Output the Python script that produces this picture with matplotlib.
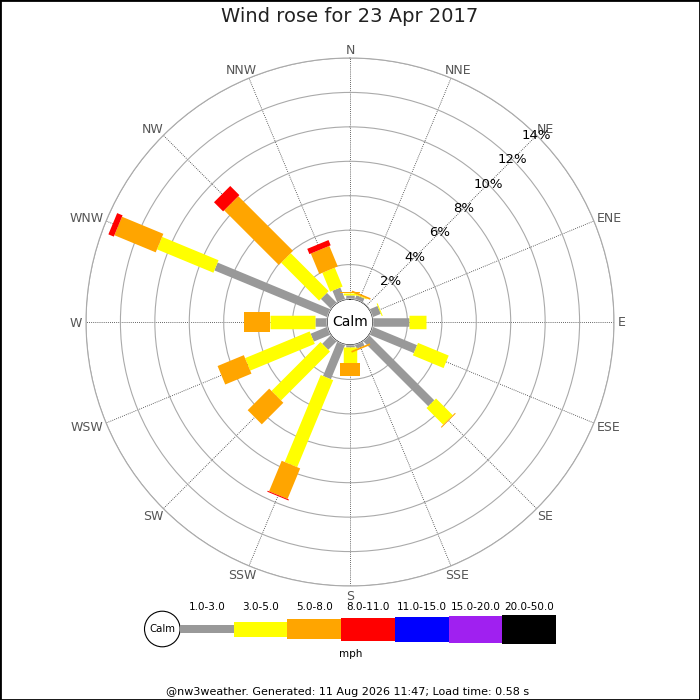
import numpy as np
import matplotlib
matplotlib.use("Agg")
import matplotlib.pyplot as plt
from matplotlib.patches import Circle, Rectangle

# wind directions, clockwise from north
directions = ["N", "NNE", "NE", "ENE", "E", "ESE", "SE", "SSE",
              "S", "SSW", "SW", "WSW", "W", "WNW", "NW", "NNW"]

# % of time in each speed band per direction
band_1_3 = [0.23, 0.25, 0.0, 0.50, 2.10, 2.78, 5.34, 0.25,
            0.10, 2.16, 0.70, 1.04, 0.69, 7.09, 0.81, 0.73]
band_3_5 = [0.12, 0.05, 0.0, 0.06, 0.96, 1.93, 1.37, 0.0,
            0.96, 5.47, 4.02, 4.06, 2.65, 3.55, 3.12, 1.19]
band_5_8 = [0.08, 0.10, 0.0, 0.0, 0.0, 0.0, 0.06, 0.10,
            0.73, 1.92, 1.77, 1.65, 1.50, 2.60, 4.49, 1.29]
band_8_11 = [0.0, 0.0, 0.0, 0.0, 0.0, 0.0, 0.0, 0.0,
             0.0, 0.06, 0.0, 0.0, 0.0, 0.34, 0.75, 0.33]

speed_labels = ["1.0-3.0", "3.0-5.0", "5.0-8.0", "8.0-11.0",
                "11.0-15.0", "15.0-20.0", "20.0-50.0"]
speed_colors = ["#999999", "#ffff00", "#ffa500", "#ff0000",
                "#0000ff", "#a020f0", "#000000"]
# bar thickness in pixels for each band (chart) and in the legend
band_px = [8.5, 13.5, 20, 23, 25, 27, 29]
legend_px = [8, 15, 20, 23, 25, 27, 29]

ring_values = [2, 4, 6, 8, 10, 12, 14]

calm_px = 23.0
outer_px = 264.0
px_per_pct = (outer_px - calm_px) / 14.0

fig = plt.figure(figsize=(7, 7), dpi=100)
fig.patch.set_facecolor("white")

ax = fig.add_axes([86 / 700, 114 / 700, 528 / 700, 528 / 700], projection="polar")
ax.set_theta_zero_location("N")
ax.set_theta_direction(-1)
ax.set_ylim(0, 14)
ax.set_rorigin(-calm_px / px_per_pct)

theta = np.radians(np.arange(16) * 22.5)
ax.set_xticks(theta)
ax.set_xticklabels([])
ax.set_yticks(ring_values)
ax.set_yticklabels([])
ax.xaxis.grid(True, color="#333333", linestyle=(0, (1, 1.5)), linewidth=0.6)
ax.yaxis.grid(True, color="#aaaaaa", linestyle="-", linewidth=0.8)
ax.spines["polar"].set_color("#aaaaaa")
ax.spines["polar"].set_linewidth(0.8)

# stacked bars: each band is a thick radial segment
bands = [band_1_3, band_3_5, band_5_8, band_8_11]
start = np.zeros(16)
for k, vals in enumerate(bands):
    vals = np.array(vals)
    for i in range(16):
        if vals[i] > 0:
            ax.plot([theta[i], theta[i]], [start[i], start[i] + vals[i]],
                    color=speed_colors[k], linewidth=band_px[k] * 0.72,
                    solid_capstyle="butt", zorder=3)
    start = start + vals

# percentage labels along NE
for r in ring_values:
    ax.text(np.radians(45), r, f"{r}%", ha="center", va="center",
            fontsize=9.5, color="black", zorder=4)

# direction labels just outside the outer ring, pushed out by half their size
renderer = fig.canvas.get_renderer()
gap = 4
for lbl, th in zip(directions, theta):
    t = ax.annotate(lbl, xy=(th, 14), xytext=(0, 0), textcoords="offset pixels",
                    ha="center", va="center", fontsize=9, color="#555555",
                    annotation_clip=False)
    w = t.get_window_extent(renderer).width
    h = 10
    dx = (gap + w / 2) * np.sin(th)
    dy = (gap + h / 2) * np.cos(th) - 1
    t.xyann = (dx, dy)

# calm circle
ax.add_patch(Circle((0.5, 0.5), calm_px / 528, transform=ax.transAxes,
                    facecolor="white", edgecolor="#e0e0e0", linewidth=0.8, zorder=5))
ax.text(0.5, 0.5, "Calm", transform=ax.transAxes, ha="center", va="center",
        fontsize=10, color="black", zorder=6)

fig.text(0.5, 1 - 17 / 700, "Wind rose for 23 Apr 2017", ha="center", va="center",
         fontsize=14, color="#222222")

# legend drawn in pixel coordinates
lax = fig.add_axes([0, 0, 1, 1])
lax.set_xlim(0, 700)
lax.set_ylim(700, 0)
lax.axis("off")
lax.patch.set_alpha(0)

lax.add_patch(Circle((162.3, 629), 17.8, facecolor="white", edgecolor="black", linewidth=0.8))
lax.text(162.3, 629.5, "Calm", ha="center", va="center", fontsize=7.3)
x0 = 180.0
seg_w = 53.7
for k in range(7):
    h = legend_px[k]
    lax.add_patch(Rectangle((x0 + k * seg_w, 629 - h / 2), seg_w, h,
                            facecolor=speed_colors[k], edgecolor="none"))
    lax.text(x0 + (k + 0.5) * seg_w, 607, speed_labels[k], ha="center", va="center",
             fontsize=7.5)
lax.text(350.5, 654, "mph", ha="center", va="center", fontsize=7.5)
lax.text(348, 692, "@nw3weather. Generated: 11 Aug 2026 11:47; Load time: 0.58 s",
         ha="center", va="center", fontsize=8)

fig.patches.append(Rectangle((0, 0), 1, 1, transform=fig.transFigure, fill=False,
                             edgecolor="black", linewidth=2))

fig.savefig("out.png", dpi=100)
